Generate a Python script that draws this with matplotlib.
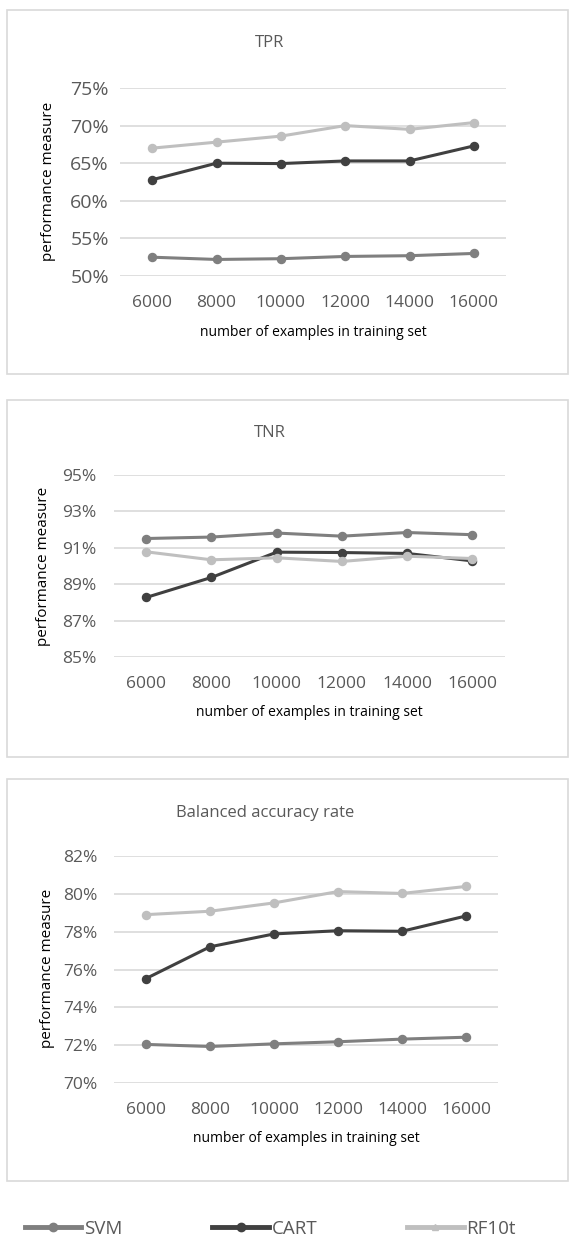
import matplotlib
matplotlib.use('Agg')
import matplotlib.pyplot as plt
from matplotlib.patches import Rectangle
from matplotlib.lines import Line2D
from matplotlib.ticker import PercentFormatter

plt.rcParams['font.family'] = ['Open Sans', 'DejaVu Sans']

# data
sizes = ['6000', '8000', '10000', '12000', '14000', '16000']
series_names = ['SVM', 'CART', 'RF10t']

tpr_svm = [52.5, 52.2, 52.3, 52.6, 52.7, 53.0]
tpr_cart = [62.8, 65.0, 64.95, 65.3, 65.3, 67.3]
tpr_rf = [67.0, 67.8, 68.6, 70.0, 69.5, 70.4]

tnr_svm = [91.51, 91.59, 91.81, 91.64, 91.84, 91.72]
tnr_cart = [88.27, 89.37, 90.76, 90.74, 90.69, 90.28]
tnr_rf = [90.78, 90.34, 90.45, 90.25, 90.54, 90.41]

bar_svm = [72.04, 71.93, 72.07, 72.18, 72.32, 72.42]
bar_cart = [75.52, 77.20, 77.88, 78.05, 78.02, 78.83]
bar_rf = [78.90, 79.08, 79.52, 80.12, 80.02, 80.39]

colors = ['#7f7f7f', '#404040', '#bfbfbf']

W, H = 570, 1240
fig = plt.figure(figsize=(W / 100, H / 100), dpi=100)


def fx(px):
    return px / W


def fy(py):
    return 1 - py / H


panels = [
    # title, data, ylim, step, axes box(px), frame box(px), title pos, ylabel pos, xlabel pos, tick size, ypad
    ('TPR', (tpr_svm, tpr_cart, tpr_rf), (50, 75), 5,
     (120, 88, 506, 276), (7, 10, 568, 374), (270, 43), (49, 181), (313, 333), 14, 8),
    ('TNR', (tnr_svm, tnr_cart, tnr_rf), (85, 95), 2,
     (113.5, 475, 505, 657), (7, 400, 568, 757), (270, 433), (44, 566), (309, 713), 12.5, 12),
    ('Balanced accuracy rate', (bar_svm, bar_cart, bar_rf), (70, 82), 2,
     (114, 856, 498, 1083), (7, 779, 568, 1181), (265, 813), (48, 968), (306, 1139), 12.5, 12),
]

for (title, data, ylim, step, abox, fbox, tpos, ylpos, xlpos, tsize, ypad) in panels:
    # frame
    fig.patches.append(Rectangle((fx(fbox[0]), fy(fbox[3])), fx(fbox[2] - fbox[0]),
                                 (fbox[3] - fbox[1]) / H, transform=fig.transFigure,
                                 fill=False, edgecolor='#d9d9d9', lw=1.2, zorder=0))
    ax = fig.add_axes([fx(abox[0]), fy(abox[3]), fx(abox[2] - abox[0]), (abox[3] - abox[1]) / H])
    x = list(range(len(sizes)))
    for vals, c in zip(data, colors):
        ax.plot(x, vals, color=c, lw=2.2, marker='o', markersize=5.8, zorder=3)
    ax.set_xlim(-0.5, len(sizes) - 0.5)
    ax.set_ylim(*ylim)
    ax.set_yticks(range(ylim[0], ylim[1] + 1, step))
    ax.yaxis.set_major_formatter(PercentFormatter(decimals=0))
    ax.set_xticks(x)
    ax.set_xticklabels(sizes)
    ax.grid(axis='y', color='#d9d9d9', lw=1.2)
    ax.set_axisbelow(True)
    for s in ax.spines.values():
        s.set_visible(False)
    ax.tick_params(axis='y', length=0, labelsize=tsize, labelcolor='#595959', pad=ypad)
    ax.tick_params(axis='x', length=0, labelsize=12.5, labelcolor='#595959', pad=14)
    fig.text(fx(tpos[0]), fy(tpos[1]), title, ha='center', va='center', fontsize=12, color='#595959')
    fig.text(fx(ylpos[0]), fy(ylpos[1]), 'performance measure', ha='center', va='center',
             rotation=90, fontsize=11, color='black')
    fig.text(fx(xlpos[0]), fy(xlpos[1]), 'number of examples in training set', ha='center',
             va='center', fontsize=10, color='black')

handles = [
    Line2D([], [], color=colors[0], lw=3.5, marker='o', markersize=6),
    Line2D([], [], color=colors[1], lw=3.5, marker='o', markersize=6),
    Line2D([], [], color=colors[2], lw=3.5, marker='^', markersize=4),
]
fig.legend(handles, series_names, loc='center left', bbox_to_anchor=(fx(25), fy(1229)),
           ncol=3, frameon=False, fontsize=13.5, handlelength=3.0, handletextpad=0.15,
           columnspacing=4.8, labelcolor='#595959', borderaxespad=0, borderpad=0)

fig.savefig('out.png', dpi=100)
